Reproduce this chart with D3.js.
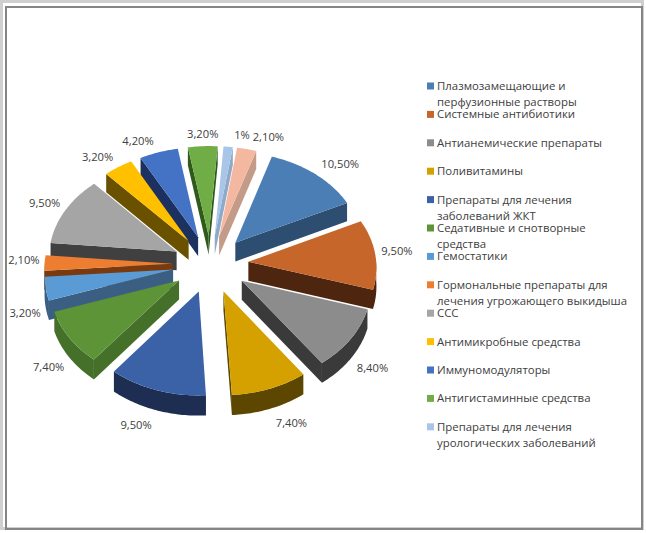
<!DOCTYPE html>
<html>
<head>
<meta charset="utf-8">
<script src="https://cdn.jsdelivr.net/npm/d3@7"></script>
<style>
  body { margin: 0; background: #fff; }
  text { font-family: "Open Sans", "Noto Sans", sans-serif; fill: #404040; }
</style>
</head>
<body>
<svg id="chart"></svg>
<script>
const categories = [
  'Плазмозамещающие и перфузионные растворы',
  'Системные антибиотики',
  'Антианемические препараты',
  'Поливитамины',
  'Препараты для лечения заболеваний ЖКТ',
  'Седативные и снотворные средства',
  'Гемостатики',
  'Гормональные препараты для лечения угрожающего выкидыша',
  'ССС',
  'Антимикробные средства',
  'Иммуномодуляторы',
  'Антигистаминные средства',
  'Препараты для лечения урологических заболеваний'
];
// 14 slices, the last one has no visible legend entry
const values = [10.5, 9.5, 8.4, 7.4, 9.5, 7.4, 3.2, 2.1, 9.5, 3.2, 4.2, 3.2, 1, 2.1];
const valueLabels = ['10,50%', '9,50%', '8,40%', '7,40%', '9,50%', '7,40%', '3,20%',
  '2,10%', '9,50%', '3,20%', '4,20%', '3,20%', '1%', '2,10%'];

const topColors = ['#4a7eb4', '#c6662a', '#8c8c8c', '#d4a100', '#3b61a7', '#5e9438', '#5b9bd5',
  '#ed7d31', '#a5a5a5', '#ffc000', '#4472c4', '#70ad47', '#a9c5e8', '#f4b8a1'];
const sideColors = ['#2d4e70', '#4e2610', '#3a3a3a', '#5c4600', '#1e2e52', '#44702a', '#3a5f82',
  '#7a3a10', '#404040', '#6a5100', '#1d3160', '#2f5a1c', '#8fa9c8', '#c49a88'];

var width = 646;
var height = 533;

// pie geometry
var cx = 210.5, cy = 264;
var R = 128;          // radius of a slice
var explode = 38;     // how far each slice is pulled out
var depth = 19;       // thickness
var tilt = 0.753;     // vertical squash of the top face
var persp = 0.00036;  // a bit of perspective: far side smaller

var svg = d3.select('#chart')
  .attr('width', width)
  .attr('height', height);

svg.append('rect').attr('width', width).attr('height', height).attr('fill', '#fff');

// picture frame
svg.append('rect')
  .attr('x', 1.5).attr('y', 1.5).attr('width', 641).attr('height', 527)
  .attr('fill', 'none').attr('stroke', '#cfcfcf').attr('stroke-width', 3);
svg.append('rect')
  .attr('x', 6).attr('y', 7).attr('width', 636).attr('height', 522)
  .attr('fill', 'none').attr('stroke', '#858585').attr('stroke-width', 2);

var pie = d3.pie()
  .sort(null)
  .value(d => d)
  .startAngle(18 * Math.PI / 180)
  .endAngle(378 * Math.PI / 180);

var arcs = pie(values);
arcs.forEach((d, i) => { d.i = i; d.mid = (d.startAngle + d.endAngle) / 2; });

// 3D point -> screen
function proj(X, Z, h) {
  var s = 1 / (1 + persp * Z);
  return [cx + X * s, cy + (-Z * tilt - h) * s];
}
function pt(d, a, r, h) {
  var X = explode * Math.sin(d.mid) + r * Math.sin(a);
  var Z = explode * Math.cos(d.mid) + r * Math.cos(a);
  return proj(X, Z, h);
}
function arcPts(d, a0, a1, h) {
  var n = Math.max(2, Math.ceil((a1 - a0) / (Math.PI / 180)));
  return d3.range(n + 1).map(j => pt(d, a0 + (a1 - a0) * j / n, R, h));
}
var line = d3.line();
function poly(points) { return line(points) + 'Z'; }

// far slices first
var order = arcs.slice().sort((a, b) => Math.cos(b.mid) - Math.cos(a.mid));

var slices = svg.append('g').attr('class', 'pie')
  .selectAll('g')
  .data(order)
  .join('g');

slices.each(function(d) {
  var g = d3.select(this);
  var a0 = d.startAngle, a1 = d.endAngle;
  var side = sideColors[d.i];

  // radial walls
  if (Math.sin(a0) < 0) {
    g.append('path').attr('fill', side)
      .attr('d', poly([pt(d, a0, 0, 0), pt(d, a0, R, 0), pt(d, a0, R, -depth), pt(d, a0, 0, -depth)]));
  }
  if (Math.sin(a1) > 0) {
    g.append('path').attr('fill', side)
      .attr('d', poly([pt(d, a1, 0, 0), pt(d, a1, R, 0), pt(d, a1, R, -depth), pt(d, a1, 0, -depth)]));
  }
  // outer curved wall, only the near half is seen
  var lo = Math.max(a0, Math.PI / 2), hi = Math.min(a1, Math.PI * 1.5);
  if (lo < hi) {
    g.append('path').attr('fill', side)
      .attr('d', poly(arcPts(d, lo, hi, 0).concat(arcPts(d, lo, hi, -depth).reverse())));
  }
  // top face
  g.append('path').attr('fill', topColors[d.i])
    .attr('d', poly([pt(d, 0, 0, 0)].concat(arcPts(d, a0, a1, 0))));
});

// data labels
svg.append('g').attr('class', 'labels')
  .selectAll('text')
  .data(arcs)
  .join('text')
    .attr('font-size', 11.2)
    .attr('dy', '0.35em')
    .each(function(d) {
      var e = pt(d, d.mid, R, 0);
      var sn = Math.sin(d.mid), cs = Math.cos(d.mid);
      var s = 1 / (1 + persp * (R + explode) * cs);
      var anchor = sn > 0.1 ? 'start' : (sn < -0.1 ? 'end' : 'middle');
      var x = anchor === 'start' ? e[0] + 6 : (anchor === 'end' ? e[0] - 5 : e[0]);
      var y = cs < 0 ? e[1] + depth * s + 3 + 12 * (-cs) : e[1] - 12 * cs - 3 * (1 - cs);
      d3.select(this).attr('x', x).attr('y', y).attr('text-anchor', anchor);
    })
    .text(d => valueLabels[d.i]);

// legend
var legendX = 427, legendY = 86, legendStep = 28.4, lineH = 16, wrapW = 194;

var legend = svg.append('g').attr('class', 'legend')
  .selectAll('g')
  .data(categories)
  .join('g')
    .attr('transform', (d, i) => 'translate(' + legendX + ',' + (legendY + i * legendStep) + ')');

legend.append('rect')
  .attr('x', 0).attr('y', -3.5)
  .attr('width', 7).attr('height', 7)
  .attr('fill', (d, i) => topColors[i]);

legend.append('text')
  .attr('x', 10)
  .attr('y', 0)
  .attr('font-size', 11.4)
  .each(function(d) {
    var t = d3.select(this);
    var words = d.split(' ');
    var cur = [];
    var ts = t.append('tspan').attr('x', 10).attr('dy', '0.35em');
    words.forEach(w => {
      cur.push(w);
      ts.text(cur.join(' '));
      if (ts.node().getComputedTextLength() > wrapW && cur.length > 1) {
        cur.pop();
        ts.text(cur.join(' '));
        cur = [w];
        ts = t.append('tspan').attr('x', 10).attr('dy', lineH).text(w);
      }
    });
  });
</script>
</body>
</html>
